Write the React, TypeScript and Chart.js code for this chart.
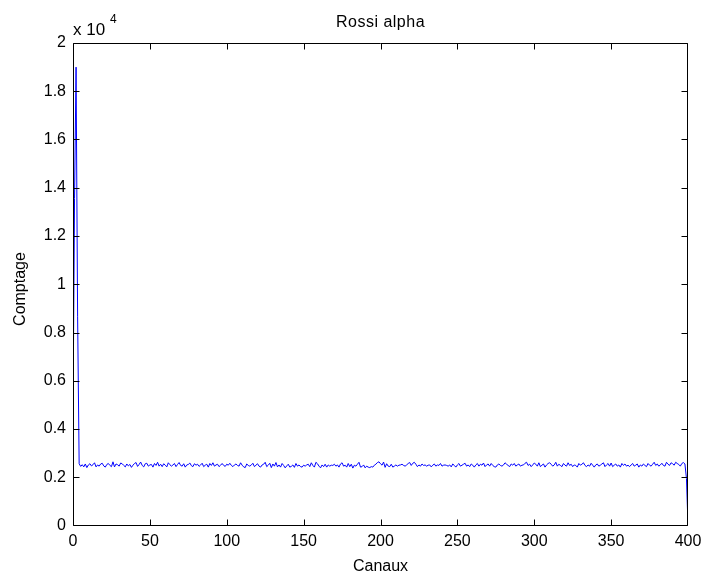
import React, { useEffect, useRef } from "react";
import { Chart, registerables } from "chart.js";

Chart.register(...registerables);

const chartTitle = "Rossi alpha";
const xAxisLabel = "Canaux";
const yAxisLabel = "Comptage";

// counts at channels 0..3 (initial peak)
const spikeCounts = [4450, 13550, 19000, 8650];
// counts at channels 4..397 (flat plateau)
const plateauCounts = [
  2560, 2450, 2520, 2430, 2550, 2400, 2510, 2560, 2470, 2520, 2600, 2430, 2510, 2460, 2550, 2580, 2470, 2420, 2530, 2570,
  2490, 2440, 2640, 2430, 2550, 2520, 2460, 2590, 2560, 2490, 2430, 2550, 2470, 2530, 2410, 2500, 2570, 2610, 2450, 2530,
  2630, 2490, 2430, 2560, 2580, 2460, 2510, 2530, 2420, 2570, 2490, 2620, 2460, 2540, 2440, 2560, 2500, 2430, 2600, 2520,
  2460, 2510, 2570, 2440, 2530, 2610, 2490, 2460, 2560, 2420, 2510, 2530, 2590, 2480, 2440, 2560, 2500, 2540, 2450, 2510,
  2580, 2440, 2500, 2540, 2420, 2570, 2490, 2600, 2460, 2510, 2540, 2440, 2500, 2570, 2490, 2450, 2540, 2500, 2580, 2490,
  2440, 2510, 2550, 2490, 2460, 2600, 2500, 2430, 2400, 2550, 2490, 2460, 2510, 2580, 2440, 2500, 2560, 2460, 2420, 2510,
  2540, 2620, 2440, 2500, 2580, 2400, 2550, 2460, 2610, 2430, 2510, 2420, 2570, 2490, 2390, 2470, 2540, 2420, 2450, 2510,
  2410, 2570, 2460, 2510, 2440, 2420, 2500, 2460, 2510, 2540, 2440, 2600, 2490, 2420, 2620, 2560, 2460, 2390, 2510, 2440,
  2540, 2420, 2510, 2460, 2500, 2490, 2540, 2460, 2510, 2420, 2550, 2600, 2460, 2500, 2420, 2570, 2440, 2540, 2380, 2500,
  2460, 2540, 2620, 2420, 2440, 2510, 2390, 2460, 2420, 2400, 2440, 2420, 2500, 2540, 2610, 2640, 2560, 2500, 2630, 2410,
  2560, 2460, 2440, 2540, 2420, 2460, 2510, 2460, 2500, 2510, 2540, 2490, 2460, 2510, 2570, 2610, 2490, 2580, 2620, 2540,
  2440, 2510, 2460, 2550, 2490, 2510, 2460, 2500, 2510, 2430, 2500, 2550, 2460, 2510, 2490, 2570, 2460, 2500, 2510, 2490,
  2460, 2510, 2430, 2550, 2490, 2420, 2510, 2570, 2460, 2500, 2540, 2580, 2460, 2510, 2440, 2550, 2500, 2420, 2510, 2570,
  2460, 2540, 2500, 2590, 2440, 2510, 2550, 2460, 2570, 2490, 2440, 2420, 2510, 2550, 2490, 2460, 2510, 2600, 2540, 2490,
  2440, 2550, 2500, 2570, 2460, 2510, 2550, 2460, 2500, 2510, 2580, 2620, 2490, 2540, 2440, 2510, 2590, 2540, 2460, 2600,
  2440, 2500, 2550, 2420, 2510, 2570, 2600, 2540, 2460, 2510, 2620, 2460, 2540, 2490, 2440, 2570, 2500, 2460, 2600, 2490,
  2540, 2440, 2510, 2490, 2420, 2570, 2500, 2540, 2600, 2490, 2440, 2510, 2460, 2580, 2500, 2420, 2510, 2550, 2460, 2500,
  2550, 2600, 2440, 2510, 2570, 2460, 2590, 2440, 2500, 2550, 2460, 2510, 2420, 2570, 2490, 2550, 2460, 2500, 2440, 2510,
  2570, 2460, 2500, 2550, 2420, 2510, 2460, 2550, 2490, 2440, 2570, 2500, 2460, 2540, 2620, 2490, 2550, 2460, 2510, 2580,
  2490, 2460, 2620, 2540, 2490, 2600, 2560, 2500, 2620, 2570, 2530, 2460, 2570, 2610,
];
// counts at channels 398..400 (final drop)
const tailCounts = [2550, 1950, 0];

const xTickValues = [0, 50, 100, 150, 200, 250, 300, 350, 400];
const yTickValues = [0, 2000, 4000, 6000, 8000, 10000, 12000, 14000, 16000, 18000, 20000];

const counts = [...spikeCounts, ...plateauCounts, ...tailCounts];
const points = counts.map((c, i) => ({ x: i, y: c }));

const FONT = '"Liberation Sans", Arial, sans-serif';

const matlabFrame = {
  id: "matlabFrame",
  afterDraw(chart: any) {
    const { ctx, chartArea, scales } = chart;
    const L = Math.floor(chartArea.left) + 0.5;
    const R = Math.ceil(chartArea.right) - 0.5;
    const T = Math.floor(chartArea.top) + 0.5;
    const B = Math.floor(chartArea.bottom) + 0.5;
    ctx.save();
    ctx.strokeStyle = "#000";
    ctx.lineWidth = 1;
    ctx.beginPath();
    ctx.rect(L, T, R - L, B - T);
    ctx.stroke();
    const tl = 6;
    ctx.beginPath();
    for (const v of xTickValues) {
      const px = Math.min(R, Math.max(L, Math.round(scales.x.getPixelForValue(v)) + 0.5));
      ctx.moveTo(px, B);
      ctx.lineTo(px, B - tl);
      ctx.moveTo(px, T);
      ctx.lineTo(px, T + tl);
    }
    for (const v of yTickValues) {
      const py = Math.min(B, Math.max(T, Math.round(scales.y.getPixelForValue(v)) + 0.5));
      ctx.moveTo(L, py);
      ctx.lineTo(L + tl, py);
      ctx.moveTo(R, py);
      ctx.lineTo(R - tl, py);
    }
    ctx.stroke();

    ctx.fillStyle = "#000";
    ctx.font = `16px ${FONT}`;
    ctx.textBaseline = "alphabetic";
    ctx.textAlign = "center";
    (ctx as any).letterSpacing = "0.5px";
    ctx.fillText(chartTitle, (chartArea.left + chartArea.right) / 2, 27);
    (ctx as any).letterSpacing = "0px";
    ctx.fillText(xAxisLabel, (chartArea.left + chartArea.right) / 2, 571);
    ctx.textAlign = "left";
    ctx.font = `17px ${FONT}`;
    ctx.fillText("x 10", 73, 35);
    ctx.font = `12px ${FONT}`;
    ctx.fillText("4", 110, 23);
    ctx.font = `16px ${FONT}`;
    ctx.save();
    ctx.translate(25, 289);
    ctx.rotate(-Math.PI / 2);
    ctx.textAlign = "center";
    ctx.fillText(yAxisLabel, 0, 0);
    ctx.restore();
    ctx.restore();
  },
};

export default function App() {
  const ref = useRef<HTMLCanvasElement | null>(null);
  useEffect(() => {
    if (!ref.current) return;
    const chart = new Chart(ref.current, {
      type: "line",
      data: {
        datasets: [
          {
            data: points,
            borderColor: "#0000ff",
            borderWidth: 1,
            pointRadius: 0,
            tension: 0,
            fill: false,
          },
        ],
      },
      options: {
        animation: false,
        responsive: false,
        devicePixelRatio: 1,
        layout: { padding: { top: 43, right: 16, left: 0, bottom: 0 } },
        plugins: {
          legend: { display: false },
          tooltip: { enabled: false },
          title: { display: false },
        },
        scales: {
          x: {
            type: "linear",
            min: 0,
            max: 400,
            afterBuildTicks: (s: any) => {
              s.ticks = xTickValues.map((v) => ({ value: v }));
            },
            grid: { display: false, drawTicks: false },
            border: { display: false },
            ticks: {
              color: "#000",
              font: { family: FONT, size: 16 },
              padding: 6,
              maxRotation: 0,
              autoSkip: false,
              callback: (v: any) => String(v),
            },
            afterFit: (s: any) => {
              s.height = 49.5;
              s.paddingLeft = 0;
              s.paddingRight = 0;
            },
          },
          y: {
            type: "linear",
            min: 0,
            max: 20000,
            afterBuildTicks: (s: any) => {
              s.ticks = yTickValues.map((v) => ({ value: v }));
            },
            grid: { display: false, drawTicks: false },
            border: { display: false },
            ticks: {
              color: "#000",
              font: { family: FONT, size: 16 },
              padding: 7,
              autoSkip: false,
              callback: (v: any) => String(parseFloat((Number(v) / 10000).toFixed(1))),
            },
            afterFit: (s: any) => {
              s.width = 73;
              s.paddingTop = 0;
              s.paddingBottom = 0;
            },
          },
        },
      },
      plugins: [matlabFrame],
    } as any);
    return () => chart.destroy();
  }, []);
  return (
    <div style={{ position: "fixed", left: 0, top: 0, width: 704, height: 575, background: "#fff" }}>
      <canvas ref={ref} width={704} height={575} style={{ display: "block", width: 704, height: 575 }} />
    </div>
  );
}
